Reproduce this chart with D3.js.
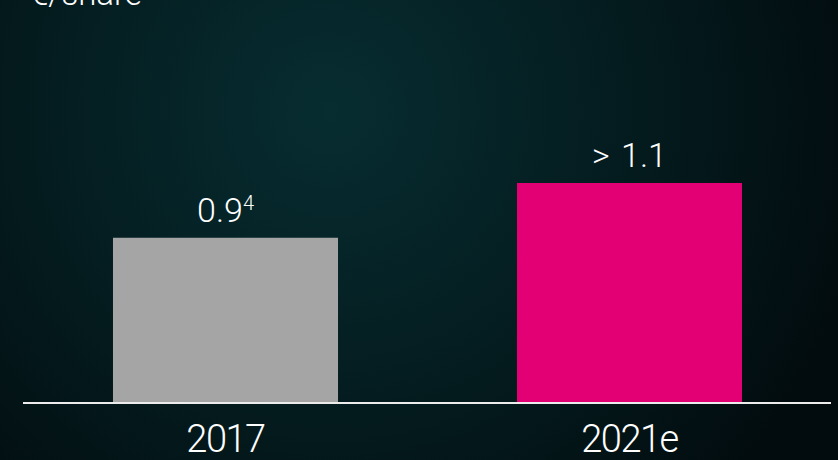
<!DOCTYPE html>
<html>
<head>
<meta charset="utf-8">
<script src="https://cdn.jsdelivr.net/npm/d3@7"></script>
<style>
  html, body { margin: 0; padding: 0; background: #030f12; }
  svg { display: block; }
  text { font-family: Roboto, 'Liberation Sans', sans-serif; font-weight: 300; fill: #fff; }
</style>
</head>
<body>
<svg width="838" height="460"></svg>
<script>
// dividend per share, chart values
let years = ['2017', '2021e']
let values = [0.9, 1.1]
let valueLabels = ['0.9', '> 1.1']
let footnotes = ['4', '']
let colors = ['#a5a5a5', '#e20074']
let unit = '€/share'

let width = 838
let height = 460
let margin = { top: 183, bottom: 57, left: 23, right: 7 }

let svg = d3.select('svg')

// background glow
let defs = svg.append('defs')
let grad = defs.append('radialGradient')
  .attr('id', 'bg')
  .attr('gradientUnits', 'userSpaceOnUse')
  .attr('cx', 330).attr('cy', 110).attr('r', 560)
grad.append('stop').attr('offset', '0%').attr('stop-color', '#072d31')
grad.append('stop').attr('offset', '55%').attr('stop-color', '#041b1e')
grad.append('stop').attr('offset', '100%').attr('stop-color', '#020b0e')

svg.append('rect')
  .attr('width', width)
  .attr('height', height)
  .attr('fill', 'url(#bg)')

let xScale = d3.scaleBand()
  .domain(years)
  .range([margin.left + 0.5, width - margin.right + 0.5])
  .paddingInner(0.443)
  .paddingOuter(0.2215)

// bars are not drawn from zero in the source slide
let yScale = d3.scaleLinear()
  .domain([0.3, 1.1])
  .range([height - margin.bottom - 1, margin.top])

svg.selectAll('.bar')
  .data(years)
  .enter()
  .append('rect')
  .attr('class', 'bar')
  .attr('x', d => xScale(d))
  .attr('y', (d, i) => yScale(values[i]))
  .attr('width', xScale.bandwidth())
  .attr('height', (d, i) => yScale(0.3) - yScale(values[i]))
  .attr('fill', (d, i) => colors[i])

// baseline
svg.append('line')
  .attr('x1', margin.left)
  .attr('x2', width - margin.right)
  .attr('y1', yScale(0.3) + 1)
  .attr('y2', yScale(0.3) + 1)
  .attr('stroke', '#ececec')
  .attr('stroke-width', 2)

// value labels
let labels = svg.selectAll('.val')
  .data(years)
  .enter()
  .append('text')
  .attr('class', 'val')
  .attr('x', d => xScale(d) + xScale.bandwidth() / 2)
  .attr('y', (d, i) => yScale(values[i]) - 16)
  .attr('text-anchor', 'middle')
  .style('font-size', '34px')
  .style('word-spacing', '3px')

labels.append('tspan')
  .text((d, i) => valueLabels[i])
labels.append('tspan')
  .attr('dy', -12)
  .style('font-size', '20px')
  .text((d, i) => footnotes[i])

// category labels
svg.selectAll('.cat')
  .data(years)
  .enter()
  .append('text')
  .attr('class', 'cat')
  .attr('x', d => xScale(d) + xScale.bandwidth() / 2)
  .attr('y', 452)
  .attr('text-anchor', 'middle')
  .style('font-size', '38px')
  .style('letter-spacing', '-1.5px')
  .text(d => d)

// unit, cut at the top edge
svg.append('text')
  .attr('x', 30)
  .attr('y', 5)
  .style('font-size', '33px')
  .text(unit)
</script>
</body>
</html>
